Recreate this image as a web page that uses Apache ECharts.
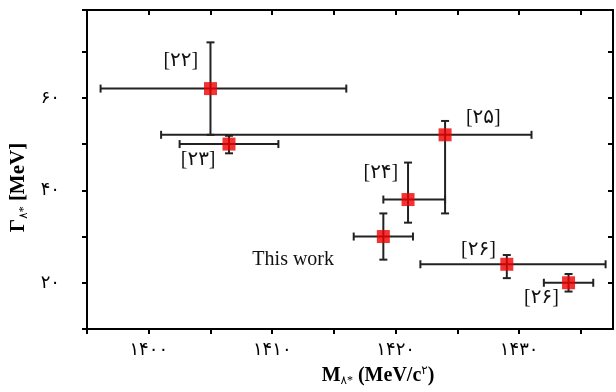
<!DOCTYPE html>
<html>
<head>
<meta charset="utf-8">
<script src="https://cdn.jsdelivr.net/npm/echarts@6/dist/echarts.min.js"></script>
<style>html,body{margin:0;padding:0;background:#fff}#c{width:616px;height:392px}</style>
</head>
<body>
<div id="c"></div>
<script>
// ---- data ----
const refNames   = ['[۲۲]', '[۲۳]', '[۲۵]', '[۲۴]', 'This work', '[۲۶]', '[۲۶]'];
const mass       = [1405.0, 1406.5, 1424.0, 1421.0, 1419.0, 1429.0, 1434.0];
const massLow    = [1396.1, 1402.5, 1401.0, 1419.0, 1416.6, 1422.0, 1432.0];
const massHigh   = [1416.0, 1410.5, 1431.0, 1424.0, 1421.4, 1437.0, 1436.0];
const width      = [62.0, 50.0, 52.0, 38.0, 30.0, 24.0, 20.0];
const widthLow   = [52.0, 48.0, 35.0, 33.0, 25.0, 21.0, 18.1];
const widthHigh  = [72.0, 51.8, 55.0, 46.0, 35.0, 26.0, 21.9];
// annotation anchor positions in data units
const labelX     = [1402.6, 1404.0, 1427.1, 1418.8, 1411.7, 1426.7, 1431.8];
const labelY     = [68.0, 46.7, 55.7, 43.9, 24.9, 27.1, 16.8];
const xTickValues = [1400, 1410, 1420, 1430];
const xTickLabels = ['۱۴۰۰', '۱۴۱۰', '۱۴۲۰', '۱۴۳۰'];
const yTickValues = [20, 40, 60];
const yTickLabels = ['۲۰', '۴۰', '۶۰'];

const serif = "'Liberation Serif', 'DejaVu Serif', 'DejaVu Sans', serif";
const chart = echarts.init(document.getElementById('c'));

const errData = mass.map((m, i) => [m, width[i], massLow[i], massHigh[i], widthLow[i], widthHigh[i]]);
const labData = labelX.map((x, i) => [x, labelY[i], i]);

function lbl(vals, labs) {
  return v => { const k = vals.indexOf(Math.round(v * 100) / 100); return k >= 0 ? labs[k] : ''; };
}

const axisLine = { lineStyle: { color: '#000', width: 2 } };
chart.setOption({
  animation: false,
  backgroundColor: '#fff',
  grid: { left: 87, top: 10, right: 3, bottom: 61 },
  xAxis: [{
    type: 'value', min: 1395, max: 1437.6, interval: 5, position: 'bottom',
    axisLine: Object.assign({ onZero: false }, axisLine),
    axisTick: { show: true, length: 5, inside: false, lineStyle: { color: '#000', width: 2 } },
    axisLabel: { formatter: lbl(xTickValues, xTickLabels), margin: 12, fontSize: 18, color: '#000', fontFamily: serif, showMaxLabel: false },
    splitLine: { show: false },
    name: '{b|M}{s|۸*}{b| (MeV/c}{p|۲}{b|)}', nameLocation: 'middle', nameGap: 36,
    nameTextStyle: {
      padding: [0, 0, 0, 56],
      rich: {
        b: { fontSize: 20, fontWeight: 'bold', fontFamily: serif, color: '#000', lineHeight: 22, verticalAlign: 'middle' },
        s: { fontSize: 12, fontFamily: serif, color: '#000', lineHeight: 22, verticalAlign: 'bottom' },
        p: { fontSize: 12, fontFamily: serif, color: '#000', lineHeight: 22, verticalAlign: 'top' }
      }
    }
  }, {
    type: 'value', min: 1395, max: 1437.6, interval: 5, position: 'top',
    axisLine: Object.assign({ onZero: false }, axisLine),
    axisTick: { show: true, length: 5, inside: true, lineStyle: { color: '#000', width: 2 } },
    axisLabel: { show: false }, splitLine: { show: false }
  }],
  yAxis: [{
    type: 'value', min: 10, max: 79, interval: 10, position: 'left',
    axisLine: Object.assign({ onZero: false }, axisLine),
    axisTick: { show: true, length: 5, inside: false, lineStyle: { color: '#000', width: 2 } },
    axisLabel: { formatter: lbl(yTickValues, yTickLabels), margin: 27, fontSize: 18, color: '#000', fontFamily: serif },
    splitLine: { show: false },
    name: '{b|Γ}{s|۸*}{b| [MeV]}', nameLocation: 'middle', nameGap: 57,
    nameTextStyle: {
      padding: [0, 36, 0, 0],
      rich: {
        b: { fontSize: 21, fontWeight: 'bold', fontFamily: serif, color: '#000', lineHeight: 22, verticalAlign: 'middle' },
        s: { fontSize: 12, fontFamily: serif, color: '#000', lineHeight: 22, verticalAlign: 'bottom' }
      }
    }
  }, {
    type: 'value', min: 10, max: 79, interval: 10, position: 'right',
    axisLine: Object.assign({ onZero: false }, axisLine),
    axisTick: { show: true, length: 5, inside: true, lineStyle: { color: '#000', width: 2 } },
    axisLabel: { show: false }, splitLine: { show: false }
  }],
  series: [{
    type: 'custom', name: 'err', data: errData, z: 2, clip: false,
    renderItem: function (params, api) {
      const c = api.coord([api.value(0), api.value(1)]);
      const xl = api.coord([api.value(2), api.value(1)]);
      const xh = api.coord([api.value(3), api.value(1)]);
      const yl = api.coord([api.value(0), api.value(4)]);
      const yh = api.coord([api.value(0), api.value(5)]);
      const cap = 4;
      const st = { stroke: '#222', lineWidth: 2 };
      const L = (x1, y1, x2, y2) => ({ type: 'line', shape: { x1, y1, x2, y2 }, style: st });
      return { type: 'group', children: [
        L(xl[0], c[1], xh[0], c[1]),
        L(xl[0], c[1] - cap, xl[0], c[1] + cap),
        L(xh[0], c[1] - cap, xh[0], c[1] + cap),
        L(c[0], yl[1], c[0], yh[1]),
        L(c[0] - cap, yl[1], c[0] + cap, yl[1]),
        L(c[0] - cap, yh[1], c[0] + cap, yh[1])
      ]};
    }
  }, {
    type: 'scatter', name: 'pts', data: mass.map((m, i) => [m, width[i]]), z: 3,
    symbol: 'rect', symbolSize: 13, itemStyle: { color: '#f00000' }
  }, {
    type: 'custom', name: 'labels', data: labData, z: 4,
    renderItem: function (params, api) {
      const p = api.coord([api.value(0), api.value(1)]);
      const i = api.value(2);
      return { type: 'text', x: p[0], y: p[1], style: {
        text: refNames[i], fill: '#111',
        font: '20px ' + serif,
        align: 'center', verticalAlign: 'middle',
        backgroundColor: '#fff', padding: [0, 2]
      } };
    }
  }]
});
</script>
</body>
</html>
